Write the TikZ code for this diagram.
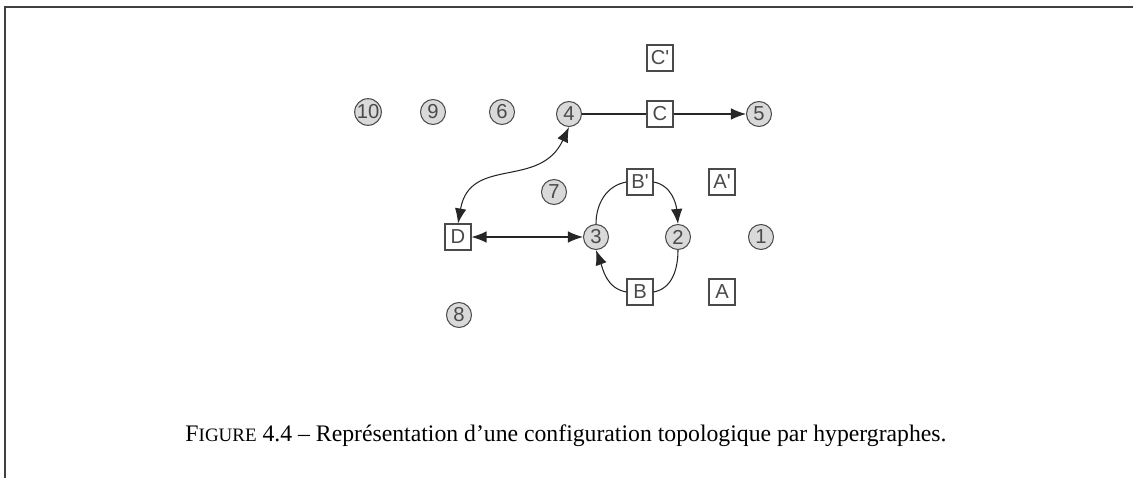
\documentclass[tikz,border=0pt]{standalone}
\usepackage{fontspec}
\setmainfont{Liberation Serif}
\newfontfamily\labelfont{Liberation Sans}
\usetikzlibrary{arrows.meta}

\definecolor{vgray}{HTML}{D9D9D9}
\definecolor{lgray}{HTML}{4A4A4A}

\tikzset{
  vert/.style={circle, draw=lgray, fill=vgray, semithick, inner sep=0pt, minimum size=0.5cm,
    font=\labelfont\fontsize{11.5}{13}\selectfont, text=lgray},
  hedge/.style={rectangle, draw=lgray, fill=white, semithick, inner sep=0pt, minimum size=0.52cm,
    font=\labelfont\fontsize{11.5}{13}\selectfont, text=lgray},
  link/.style={draw=black!85, semithick},
  tip/.style={-{Latex[length=0.3cm,width=0.23cm]}},
  tips/.style={{Latex[length=0.3cm,width=0.23cm]}-{Latex[length=0.3cm,width=0.23cm]}}
}

\begin{document}
\begin{tikzpicture}[x=0.02cm, y=0.02cm]
\useasboundingbox (0,0) rectangle (1133,478);

%frame
\draw[black!75, line width=1.2pt] (5,0) -- (5,471) -- (1133,471);

%vertices
\node[vert] (v10) at (368,366) {10};
\node[vert] (v9) at (433,366) {9};
\node[vert] (v6) at (502,366) {6};
\node[vert] (v4) at (569,364) {4};
\node[vert] (v5) at (759,364) {5};
\node[vert] (v7) at (554,286) {7};
\node[vert] (v3) at (596,241) {3};
\node[vert] (v2) at (678,241) {2};
\node[vert] (v1) at (761,241) {1};
\node[vert] (v8) at (459,163) {8};

%hyperedges
\node[hedge] (Cp) at (660,420) {C'};
\node[hedge] (C) at (660,364) {C};
\node[hedge] (Bp) at (640,296) {B'};
\node[hedge] (Ap) at (722,296) {A'};
\node[hedge] (D) at (458,241) {D};
\node[hedge] (B) at (640,186) {B};
\node[hedge] (A) at (722,186) {A};

%links
\draw[link] (v4) -- (C);
\draw[link, tip] (C) -- (v5);
\draw[link, tips] (D) -- (v3);
\draw[link, tips] (D.north) to[out=80, in=-115, looseness=1.2] (v4.south);
\draw[link, tip] (Bp.east) to[out=-10, in=95] (v2.north);
\draw[link] (v2.south) to[out=-90, in=10] (B.east);
\draw[link, tip] (B.west) to[out=170, in=-70] (v3.south);
\draw[link] (v3.north) to[out=90, in=190] (Bp.west);

%caption
\node[anchor=base] (cap) at (566,37) {\fontsize{13.5}{16}\selectfont F{\fontsize{10.8}{13}\selectfont IGURE} 4.4 -- Représentation d'une configuration topologique par hypergraphes.};
\end{tikzpicture}
\end{document}
